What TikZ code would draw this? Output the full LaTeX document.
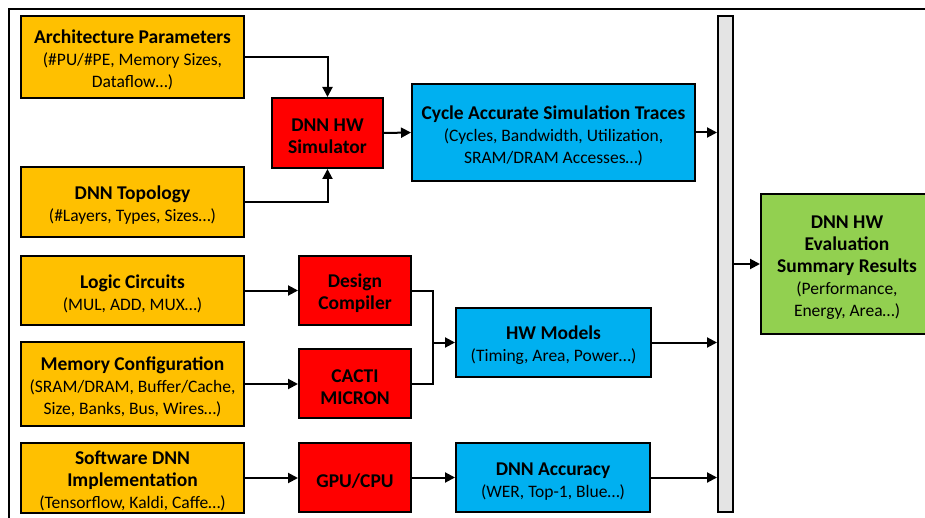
\documentclass[tikz,border=0pt]{standalone}
\usepackage{fontspec}
\setmainfont{Carlito}
\usetikzlibrary{arrows.meta}
\definecolor{inorange}{HTML}{FFC000}
\definecolor{toolred}{HTML}{FF0000}
\definecolor{outblue}{HTML}{00B0F0}
\definecolor{resgreen}{HTML}{92D050}
\definecolor{bargray}{HTML}{E4E4E4}
% bold heading line, a little larger than the detail lines
\newcommand\ttl[1]{{\fontsize{19.5}{22}\selectfont\bfseries #1}}
% strut that sets the height of the first line of a box
\newcommand\fs{\rule{0pt}{20pt}}
\tikzset{
  box/.style={draw=black, line width=2pt, rectangle, align=center, inner sep=0pt,
    font=\fontsize{17.5}{22}\selectfont},
  inbox/.style={box, fill=inorange, minimum width=223pt},
  toolbox/.style={box, fill=toolred, minimum width=112pt, minimum height=69pt},
  outbox/.style={box, fill=outblue},
  wire/.style={line width=2pt},
  arr/.style={wire, -{Triangle[length=10pt,width=10pt]}},
}
\begin{document}
\begin{tikzpicture}[x=1pt,y=-1pt]
\useasboundingbox (0,0) rectangle (925,518);
\clip (0,0) rectangle (925,518);
\fill[white] (0,0) rectangle (925,518);
% outer frame
\draw[line width=2pt] (9,540) -- (9,9) -- (950,9);

% inputs
\node[inbox, minimum height=82pt] (arch) at (132.5,57)
  {\fs\ttl{Architecture Parameters}\\(\#PU/\#PE, Memory Sizes,\\Dataflow…)};
\node[inbox, minimum height=70pt] (topo) at (132.5,202)
  {\fs\ttl{DNN Topology}\\(\#Layers, Types, Sizes…)};
\node[inbox, minimum height=69pt] (logic) at (132.5,290.5)
  {\fs\ttl{Logic Circuits}\\(MUL, ADD, MUX…)};
\node[inbox, minimum height=84pt] (mem) at (132.5,384)
  {\fs\ttl{Memory Configuration}\\(SRAM/DRAM, Buffer/Cache,\\Size, Banks, Bus, Wires…)};
\node[inbox, minimum height=70pt] (sw) at (132.5,478)
  {\fs\ttl{Software DNN}\\\ttl{Implementation}\\(Tensorflow, Kaldi, Caffe…)};

% tools
\node[toolbox, minimum width=111pt, minimum height=70pt] (sim) at (327.5,133)
  {\fs\ttl{DNN HW}\\\ttl{Simulator}};
\node[toolbox] (dc) at (355,290.5) {\fs\ttl{Design}\\\ttl{Compiler}};
\node[toolbox] (cacti) at (355,383.5) {\fs\ttl{CACTI}\\\ttl{MICRON}};
\node[toolbox] (gpu) at (355,477.5) {\fs\ttl{GPU/CPU}};

% intermediate results
\node[outbox, minimum width=283pt, minimum height=97pt] (cycle) at (553.5,132.5)
  {\fs\ttl{Cycle Accurate Simulation Traces}\\(Cycles, Bandwidth, Utilization,\\SRAM/DRAM Accesses…)};
\node[outbox, minimum width=195pt, minimum height=69pt] (hw) at (553.5,342.5)
  {\fs\ttl{HW Models}\\(Timing, Area, Power…)};
\node[outbox, minimum width=194pt, minimum height=69pt] (acc) at (553,477.5)
  {\fs\ttl{DNN Accuracy}\\(WER, Top-1, Blue…)};

% collector bar and summary
\node[draw=black, line width=2pt, fill=bargray, minimum width=15pt, minimum height=496pt, inner sep=0pt] (bar) at (725.5,264) {};
\node[box, fill=resgreen, minimum width=172pt, minimum height=140pt] (sum) at (847,264)
  {\fs\ttl{DNN HW}\\\ttl{Evaluation}\\\ttl{Summary Results}\\(Performance,\\Energy, Area…)};

% connectors
\draw[arr] (arch.east) -| (sim.north);
\draw[arr] (topo.east) -| (sim.south);
\draw[arr] (sim.east) -- (cycle.west);
\draw[arr] (cycle.east) -- (cycle.east -| bar.west);

\draw[arr] (logic.east) -- (logic.east -| dc.west);
\draw[arr] (mem.east) -- (mem.east -| cacti.west);
\coordinate (join) at (433,342.5);
\draw[wire] (dc.east) -| (join);
\draw[wire] (cacti.east) -| (join);
\draw[arr] (join) -- (hw.west);
\draw[arr] (hw.east) -- (hw.east -| bar.west);

\draw[arr] (sw.east) -- (sw.east -| gpu.west);
\draw[arr] (gpu.east) -- (acc.west);
\draw[arr] (acc.east) -- (acc.east -| bar.west);

\draw[arr] (bar.east) -- (sum.west);
\end{tikzpicture}
\end{document}
